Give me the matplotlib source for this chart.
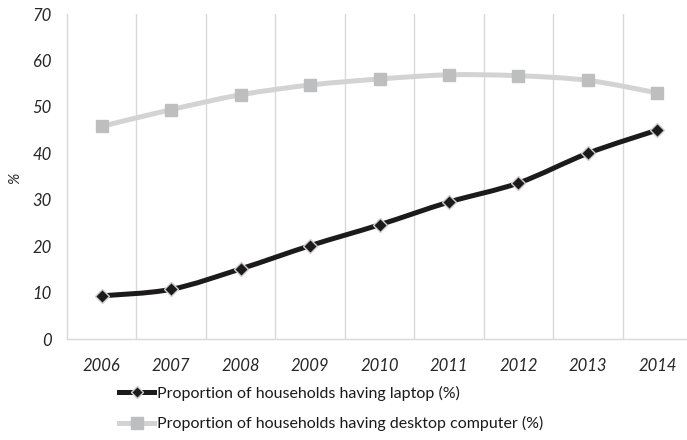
import matplotlib
matplotlib.use("Agg")
import matplotlib.pyplot as plt
from matplotlib.path import Path
from matplotlib.patches import PathPatch
from matplotlib.lines import Line2D

years = ["2006", "2007", "2008", "2009", "2010", "2011", "2012", "2013", "2014"]
laptop = [9.3, 10.7, 15.1, 20.1, 24.6, 29.5, 33.6, 40.0, 45.0]
desktop = [45.8, 49.4, 52.6, 54.7, 56.0, 56.9, 56.7, 55.7, 53.0]

laptop_label = "Proportion of households having laptop (%)"
desktop_label = "Proportion of households having desktop computer (%)"

FONT = "Lato"
TICK_COLOR = "#262626"


def smooth_path(xs, ys):
    # Catmull-Rom style cubic bezier through the points (like a "smoothed line")
    verts = [(xs[0], ys[0])]
    codes = [Path.MOVETO]
    n = len(xs)
    for i in range(n - 1):
        x0, y0 = (xs[i - 1], ys[i - 1]) if i > 0 else (xs[i], ys[i])
        x1, y1 = xs[i], ys[i]
        x2, y2 = xs[i + 1], ys[i + 1]
        x3, y3 = (xs[i + 2], ys[i + 2]) if i + 2 < n else (x2, y2)
        c1 = (x1 + (x2 - x0) / 6, y1 + (y2 - y0) / 6)
        c2 = (x2 - (x3 - x1) / 6, y2 - (y3 - y1) / 6)
        verts += [c1, c2, (x2, y2)]
        codes += [Path.CURVE4] * 3
    return Path(verts, codes)


fig = plt.figure(figsize=(6.87, 4.4), dpi=100)
ax = fig.add_axes([67 / 687, 1 - 339 / 440, 625 / 687, 325 / 440])

x = list(range(len(years)))

desk_col = "#d3d3d4"
lap_col = "#1c1a1a"

ax.add_patch(PathPatch(smooth_path(x, desktop), facecolor="none", edgecolor=desk_col,
                       lw=3.6, capstyle="round", zorder=2))
ax.plot(x, desktop, ls="none", marker="s", ms=9, color="#bdbec0", zorder=3)

ax.add_patch(PathPatch(smooth_path(x, laptop), facecolor="none", edgecolor=lap_col,
                       lw=3.6, capstyle="round", zorder=4))
ax.plot(x, laptop, ls="none", marker="D", ms=7, color=lap_col,
        markeredgecolor="#cfcfcf", markeredgewidth=1.0, zorder=5)

ax.set_xlim(-0.5, len(years) - 0.5)
ax.set_ylim(0, 70)
ax.set_yticks(range(0, 71, 10))
ax.set_xticks(x)
ax.set_xticklabels(years)

# category gridlines sit between the years
for b in range(1, len(years) + 1):
    ax.axvline(b - 0.5, color="#d9d9d9", lw=1.0, zorder=1)

for side in ["top", "right"]:
    ax.spines[side].set_visible(False)
for side in ["left", "bottom"]:
    ax.spines[side].set_color("#d9d9d9")
    ax.spines[side].set_linewidth(1.0)

ax.tick_params(length=0, pad=14, colors=TICK_COLOR)
ax.tick_params(axis="y", pad=11)
for lab in ax.get_xticklabels() + ax.get_yticklabels():
    lab.set_fontfamily(FONT)
    lab.set_fontstyle("italic")
    lab.set_fontsize(12)
    lab.set_color(TICK_COLOR)

fig.text(15 / 687, 1 - 178 / 440, "%", rotation=90, ha="center", va="center",
         fontfamily=FONT, fontstyle="italic", fontsize=11, color=TICK_COLOR)

handles = [
    Line2D([], [], color=lap_col, lw=3.6, marker="D", ms=6, markeredgecolor="#cfcfcf",
           markeredgewidth=1.0),
    Line2D([], [], color=desk_col, lw=3.6, marker="s", ms=9, markerfacecolor="#bdbec0",
           markeredgecolor="#bdbec0"),
]
fig.legend(handles, [laptop_label, desktop_label], loc="upper left",
           bbox_to_anchor=(111 / 687, 1 - 378 / 440), frameon=False,
           prop={"family": FONT, "size": 11.5}, handlelength=2.2, handletextpad=0.15,
           labelspacing=0.95, borderpad=0, labelcolor="#1a1a1a")

fig.savefig("out.png", dpi=100)
